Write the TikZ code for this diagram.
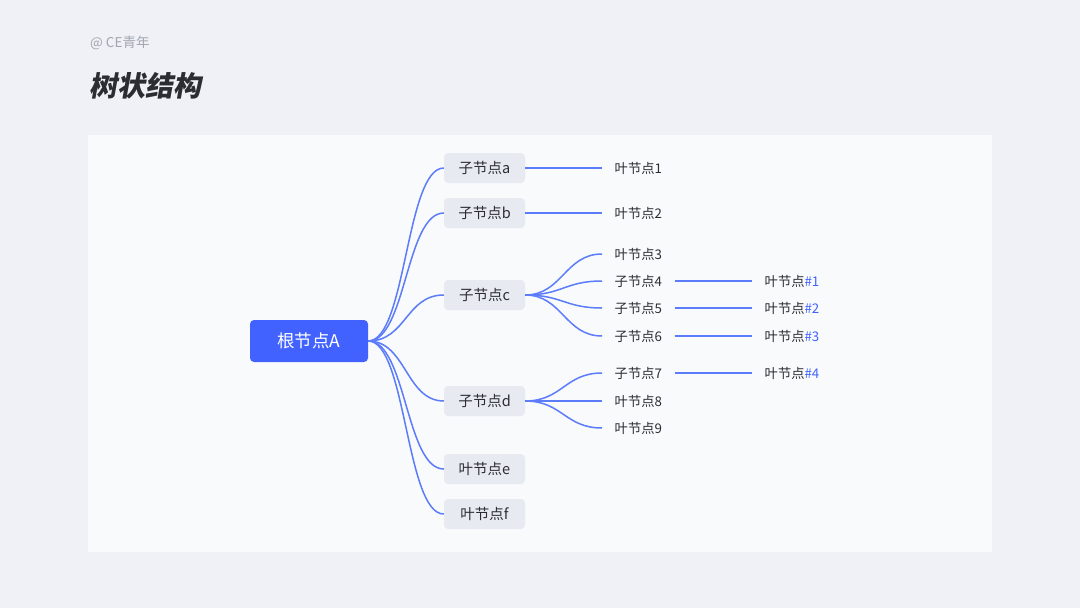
\documentclass[tikz,border=0pt]{standalone}
\usepackage{fontspec}
\setmainfont{Noto Sans CJK SC}
\newfontfamily\titlefont[FakeSlant=0.18]{Noto Sans CJK SC}
\definecolor{bgdots}{HTML}{EFF1F6}
\definecolor{panel}{HTML}{F8FAFC}
\definecolor{boxgray}{HTML}{E7EAF1}
\definecolor{rootblue}{HTML}{4262FF}
\definecolor{lineblue}{HTML}{5C7CFA}
\definecolor{txt}{HTML}{2B2D33}
\definecolor{taggray}{HTML}{A2A6B0}
\tikzset{
  rootbox/.style={fill=rootblue, rounded corners=4pt, minimum width=118pt, minimum height=42pt,
    text=white, font=\fontsize{17.5}{17.5}\selectfont},
  childbox/.style={fill=boxgray, rounded corners=4pt, minimum width=81pt, minimum height=30pt,
    inner xsep=0pt, text=txt, font=\fontsize{14.5}{14.5}\selectfont},
  leaf/.style={anchor=west, inner xsep=12.5pt, inner ysep=2pt, text=txt,
    font=\fontsize{13.3}{13.3}\selectfont},
  branch/.style={draw=lineblue, line width=1.5pt},
}
\newcommand{\num}[1]{\textcolor{rootblue}{#1}}
\begin{document}
\begin{tikzpicture}[x=1pt,y=-1pt]
  \useasboundingbox (0,0) rectangle (1080,608);
  \fill[bgdots] (0,0) rectangle (1080,608);
  \fill[panel] (88,135) rectangle (992,552);

  % heading
  \node[anchor=west, inner sep=0pt, text=taggray, font=\fontsize{13.5}{13.5}\selectfont] (tag) at (90,43) {@ CE青年};
  \node[anchor=west, inner sep=0pt, text=txt, font=\titlefont\bfseries\fontsize{28}{28}\selectfont] (title) at (89,86) {树状结构};

  % root and children
  \node[rootbox] (A) at (309,341) {根节点A};
  \node[childbox] (a) at (484.5,168) {子节点a};
  \node[childbox] (b) at (484.5,213) {子节点b};
  \node[childbox] (c) at (484.5,295) {子节点c};
  \node[childbox] (d) at (484.5,401) {子节点d};
  \node[childbox] (e) at (484.5,469) {叶节点e};
  \node[childbox] (f) at (484.5,514) {叶节点f};

  % leaves
  \node[leaf] (l1) at (602,168) {叶节点1};
  \node[leaf] (l2) at (602,213) {叶节点2};
  \node[leaf] (l3) at (602,254) {叶节点3};
  \node[leaf] (c4) at (602,281) {子节点4};
  \node[leaf] (c5) at (602,308) {子节点5};
  \node[leaf] (c6) at (602,336) {子节点6};
  \node[leaf] (c7) at (602,373) {子节点7};
  \node[leaf] (l8) at (602,401) {叶节点8};
  \node[leaf] (l9) at (602,428) {叶节点9};
  \node[leaf] (n1) at (752,281) {叶节点\num{\#1}};
  \node[leaf] (n2) at (752,308) {叶节点\num{\#2}};
  \node[leaf] (n3) at (752,336) {叶节点\num{\#3}};
  \node[leaf] (n4) at (752,373) {叶节点\num{\#4}};

  % connectors
  \foreach \k in {a,b,c,d,e,f}
    \draw[branch] (A.east) .. controls +(38,0) and +(-38,0) .. (\k.west);
  \foreach \k in {l3,c4,c5,c6}
    \draw[branch] (c.east) .. controls +(37,0) and +(-37,0) .. (\k.west);
  \foreach \k in {c7,l8,l9}
    \draw[branch] (d.east) .. controls +(37,0) and +(-37,0) .. (\k.west);
  \draw[branch] (a.east) -- (l1.west);
  \draw[branch] (b.east) -- (l2.west);
  \foreach \p/\q in {c4/n1,c5/n2,c6/n3,c7/n4}
    \draw[branch] (\p.east) -- (\q.west);
\end{tikzpicture}
\end{document}
